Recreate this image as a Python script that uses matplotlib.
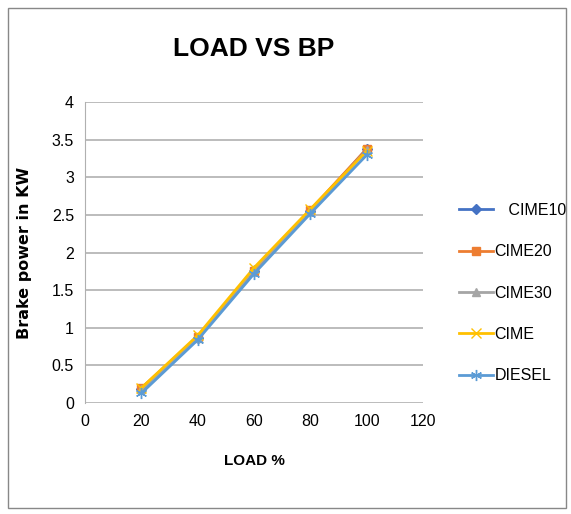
import matplotlib.pyplot as plt
from matplotlib.patches import Rectangle

plt.rcParams['font.family'] = ['Liberation Sans', 'DejaVu Sans']

load = [20, 40, 60, 80, 100]
cime10 = [0.18, 0.86, 1.76, 2.55, 3.38]
cime20 = [0.20, 0.88, 1.75, 2.57, 3.38]
cime30 = [0.18, 0.86, 1.78, 2.55, 3.36]
cime = [0.20, 0.90, 1.80, 2.58, 3.35]
diesel = [0.13, 0.84, 1.72, 2.52, 3.30]

fig = plt.figure(figsize=(5.71, 5.14), dpi=100)
ax = fig.add_axes([0.149, 0.216, 0.592, 0.585])

ax.plot(load, cime10, color='#4472c4', marker='D', markersize=5, lw=2, label='   CIME10')
ax.plot(load, cime20, color='#ed7d31', marker='s', markersize=6, lw=2, label='CIME20')
ax.plot(load, cime30, color='#a5a5a5', marker='^', markersize=6, lw=2, label='CIME30')
ax.plot(load, cime, color='#ffc000', marker='x', markersize=7, lw=2, label='CIME')
ax.plot(load, diesel, color='#5b9bd5', marker=(6, 2, 0), markersize=8, lw=2, label='DIESEL')

ax.set_xlim(0, 120)
ax.set_ylim(0, 4)
ax.set_xticks(range(0, 121, 20))
ax.set_yticks([0, 0.5, 1, 1.5, 2, 2.5, 3, 3.5, 4])
ax.set_yticklabels(['0', '0.5', '1', '1.5', '2', '2.5', '3', '3.5', '4'])
ax.tick_params(length=0, labelsize=11.5, pad=8)
ax.grid(axis='y', color='#b0b0b0', lw=1.2)
for s in ['top', 'right', 'bottom']:
    ax.spines[s].set_visible(False)
ax.spines['left'].set_color('#b0b0b0')
ax.set_axisbelow(True)

ax.set_title('LOAD VS BP', fontsize=19, fontweight='bold', pad=33)
ax.set_xlabel('LOAD %', fontsize=11, fontweight='bold', labelpad=18)
ax.set_ylabel('Brake power in KW', fontsize=11.5, fontweight='bold', labelpad=14,
              family=['DejaVu Sans'])

ax.legend(loc='center left', bbox_to_anchor=(1.065, 0.365), frameon=False,
          fontsize=11.5, labelspacing=1.65, handlelength=2.1, handletextpad=0.1)

fig.patches.append(Rectangle((0.014, 0.012), 0.977, 0.973, transform=fig.transFigure,
                             fill=False, edgecolor='#888888', lw=1))

fig.savefig('out.png')
